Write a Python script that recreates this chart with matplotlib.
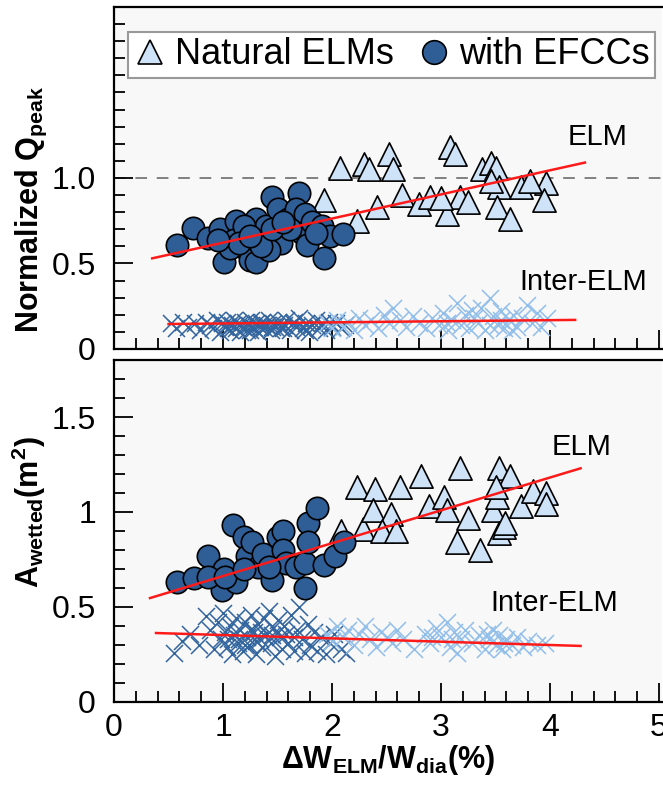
import matplotlib
matplotlib.use("Agg")
import matplotlib.pyplot as plt
import numpy as np
from matplotlib.ticker import MultipleLocator, FixedLocator, FixedFormatter
from matplotlib.lines import Line2D

plt.rcParams.update({
    'font.family': 'Liberation Sans',
    'mathtext.fontset': 'custom',
    'mathtext.rm': 'Liberation Sans',
    'mathtext.it': 'Liberation Sans',
    'mathtext.bf': 'Liberation Sans:bold',
})

# --- data: top panel (normalized Q_peak) ---
top_natural = [(2.07, 1.06), (2.29, 1.08), (2.34, 1.05), (2.52, 1.14), (2.56, 1.05),
               (1.93, 0.87), (2.23, 0.75), (2.41, 0.83), (2.64, 0.90), (2.80, 0.85),
               (2.90, 0.89), (3.05, 0.79), (3.08, 1.18), (3.13, 1.14), (3.17, 0.89),
               (3.25, 0.86), (3.38, 1.05), (3.46, 1.09), (3.50, 1.06), (3.53, 0.95),
               (3.51, 0.83), (3.63, 0.76), (3.73, 0.95), (3.96, 0.97), (3.94, 0.87),
               (3.46, 0.98), (3.00, 0.88), (3.82, 0.98)]
top_efcc = [(0.58, 0.61), (0.72, 0.71), (0.86, 0.65), (0.97, 0.70), (1.01, 0.51),
            (1.12, 0.75), (1.10, 0.64), (1.21, 0.68), (1.22, 0.58), (1.25, 0.52),
            (1.30, 0.76), (1.32, 0.64), (1.30, 0.51), (1.39, 0.72), (1.45, 0.89),
            (1.50, 0.82), (1.52, 0.68), (1.53, 0.62), (1.60, 0.76), (1.70, 0.91),
            (1.67, 0.82), (1.75, 0.79), (1.72, 0.68), (1.77, 0.61), (1.82, 0.74),
            (1.91, 0.72), (1.93, 0.53), (1.98, 0.66), (2.10, 0.67), (1.19, 0.72),
            (1.06, 0.59), (1.42, 0.58), (1.61, 0.70), (1.15, 0.62), (1.35, 0.60),
            (1.25, 0.66), (0.95, 0.64), (1.45, 0.70), (1.55, 0.74), (1.85, 0.68)]
top_inter_efcc = [(0.52, 0.15), (0.57, 0.12), (0.63, 0.16), (0.68, 0.13), (0.74, 0.15),
                  (0.79, 0.11), (0.84, 0.16), (0.88, 0.14), (0.91, 0.12), (0.94, 0.17),
                  (0.97, 0.10), (0.99, 0.15), (1.02, 0.13), (1.04, 0.16), (1.06, 0.11),
                  (1.08, 0.14), (1.10, 0.17), (1.12, 0.12), (1.14, 0.15), (1.16, 0.10),
                  (1.18, 0.13), (1.20, 0.16), (1.22, 0.11), (1.24, 0.14), (1.26, 0.17),
                  (1.28, 0.12), (1.30, 0.15), (1.32, 0.10), (1.34, 0.13), (1.36, 0.16),
                  (1.38, 0.12), (1.40, 0.14), (1.42, 0.17), (1.44, 0.11), (1.46, 0.15),
                  (1.48, 0.13), (1.50, 0.16), (1.53, 0.12), (1.56, 0.14), (1.58, 0.17),
                  (1.61, 0.11), (1.64, 0.15), (1.67, 0.13), (1.70, 0.18), (1.73, 0.12),
                  (1.76, 0.15), (1.79, 0.10), (1.82, 0.14), (1.85, 0.17), (1.88, 0.12),
                  (1.91, 0.15), (1.94, 0.11), (1.97, 0.16), (2.00, 0.13), (2.04, 0.15),
                  (2.08, 0.12), (2.12, 0.14), (1.05, 0.12), (1.15, 0.14), (1.25, 0.11),
                  (1.35, 0.15), (1.45, 0.13), (1.55, 0.12), (1.65, 0.16), (1.75, 0.11)]
top_inter_natural = [(1.95, 0.15), (2.00, 0.12), (2.05, 0.17), (2.10, 0.13), (2.15, 0.16),
                     (2.20, 0.11), (2.25, 0.18), (2.30, 0.14), (2.36, 0.17), (2.42, 0.12),
                     (2.48, 0.20), (2.52, 0.15), (2.56, 0.24), (2.62, 0.17), (2.68, 0.13),
                     (2.74, 0.19), (2.80, 0.15), (2.86, 0.12), (2.92, 0.18), (2.98, 0.14),
                     (3.02, 0.21), (3.06, 0.11), (3.10, 0.17), (3.15, 0.27), (3.18, 0.14),
                     (3.22, 0.20), (3.26, 0.12), (3.30, 0.18), (3.34, 0.15), (3.37, 0.24),
                     (3.40, 0.11), (3.45, 0.30), (3.48, 0.19), (3.52, 0.14), (3.55, 0.22),
                     (3.58, 0.12), (3.62, 0.17), (3.66, 0.20), (3.70, 0.13), (3.74, 0.18),
                     (3.79, 0.26), (3.83, 0.15), (3.88, 0.21), (3.92, 0.13), (3.97, 0.18),
                     (3.45, 0.14), (3.55, 0.17), (3.05, 0.15), (3.28, 0.23), (3.65, 0.11)]
top_fit_elm = [(0.35, 0.53), (4.32, 1.09)]
top_fit_inter = [(0.50, 0.146), (4.23, 0.17)]

# --- data: bottom panel (A_wetted) ---
bot_natural = [(2.23, 1.13), (2.39, 1.12), (2.62, 1.13), (2.82, 1.19), (3.17, 1.23),
               (3.53, 1.23), (3.63, 1.19), (2.08, 0.90), (2.28, 0.91), (2.38, 1.01),
               (2.54, 0.99), (2.46, 0.90), (2.59, 0.90), (2.89, 1.03), (3.03, 1.08),
               (3.05, 1.01), (3.15, 0.84), (3.25, 0.97), (3.36, 0.80), (3.48, 1.01),
               (3.51, 1.08), (3.53, 0.89), (3.58, 0.92), (3.73, 1.03), (3.84, 1.11),
               (3.96, 1.10), (3.96, 1.04), (3.50, 1.13), (3.59, 0.94)]
bot_efcc = [(0.58, 0.63), (0.73, 0.65), (0.86, 0.77), (1.01, 0.70), (0.99, 0.59),
            (1.09, 0.93), (1.12, 0.63), (1.19, 0.87), (1.22, 0.77), (1.27, 0.84),
            (1.32, 0.71), (1.37, 0.78), (1.45, 0.64), (1.50, 0.87), (1.55, 0.90),
            (1.55, 0.80), (1.58, 0.73), (1.67, 0.71), (1.75, 0.73), (1.75, 0.60),
            (1.78, 0.94), (1.78, 0.84), (1.86, 1.02), (1.93, 0.72), (2.03, 0.77),
            (2.11, 0.84), (0.86, 0.66), (1.02, 0.66), (1.42, 0.71), (1.19, 0.70)]
bot_inter_efcc = [(0.55, 0.26), (0.62, 0.32), (0.70, 0.36), (0.78, 0.30), (0.84, 0.45),
                  (0.88, 0.38), (0.92, 0.28), (0.95, 0.42), (0.98, 0.33), (1.00, 0.47),
                  (1.02, 0.37), (1.04, 0.29), (1.06, 0.40), (1.08, 0.25), (1.10, 0.35),
                  (1.12, 0.44), (1.14, 0.31), (1.16, 0.38), (1.18, 0.27), (1.20, 0.42),
                  (1.22, 0.34), (1.24, 0.30), (1.26, 0.46), (1.28, 0.37), (1.30, 0.25),
                  (1.32, 0.41), (1.34, 0.33), (1.36, 0.29), (1.38, 0.44), (1.40, 0.36),
                  (1.42, 0.48), (1.44, 0.31), (1.46, 0.39), (1.48, 0.24), (1.50, 0.43),
                  (1.52, 0.34), (1.54, 0.28), (1.56, 0.40), (1.58, 0.36), (1.60, 0.31),
                  (1.62, 0.46), (1.65, 0.27), (1.68, 0.38), (1.70, 0.50), (1.72, 0.33),
                  (1.75, 0.26), (1.78, 0.41), (1.80, 0.30), (1.83, 0.37), (1.86, 0.27),
                  (1.90, 0.34), (1.94, 0.25), (1.98, 0.31), (2.02, 0.36), (2.08, 0.28),
                  (2.13, 0.26), (1.15, 0.33), (1.25, 0.38), (1.35, 0.37), (1.45, 0.35),
                  (1.05, 0.33), (1.20, 0.30), (1.30, 0.32), (1.50, 0.37), (1.65, 0.34)]
bot_inter_natural = [(1.95, 0.36), (2.00, 0.32), (2.05, 0.40), (2.10, 0.34), (2.15, 0.38),
                     (2.20, 0.30), (2.25, 0.36), (2.30, 0.40), (2.35, 0.33), (2.40, 0.29),
                     (2.45, 0.37), (2.50, 0.34), (2.55, 0.31), (2.60, 0.38), (2.65, 0.33),
                     (2.75, 0.28), (2.85, 0.36), (2.90, 0.31), (2.95, 0.39), (3.00, 0.34),
                     (3.05, 0.42), (3.08, 0.29), (3.12, 0.37), (3.15, 0.26), (3.18, 0.33),
                     (3.22, 0.38), (3.28, 0.31), (3.35, 0.35), (3.40, 0.28), (3.44, 0.33),
                     (3.48, 0.38), (3.50, 0.30), (3.53, 0.35), (3.56, 0.28), (3.60, 0.33),
                     (3.65, 0.30), (3.70, 0.34), (3.75, 0.29), (3.80, 0.32), (3.88, 0.30),
                     (3.95, 0.31), (3.42, 0.36), (3.58, 0.31), (3.10, 0.33), (2.92, 0.34)]
bot_fit_elm = [(0.33, 0.547), (4.28, 1.23)]
bot_fit_inter = [(0.385, 0.363), (4.28, 0.295)]

# --- styles ---
C_EFCC = '#2f5e97'
C_CROSS_DARK = '#33659f'
C_CROSS_LIGHT = '#92bfea'
C_TRI = '#cfe3f8'
C_FIT = '#ff1a1a'
BG = '#f8f8f8'

fig = plt.figure(figsize=(6.63, 7.89), dpi=100)
ax1 = fig.add_axes([0.172, 0.5577, 0.827, 0.4335])
ax2 = fig.add_axes([0.172, 0.1103, 0.827, 0.4334])


def draw_panel(ax, natural, efcc, inter_efcc, inter_nat, fit_elm, fit_inter):
    a = np.array(inter_efcc)
    b = np.array(inter_nat)
    ax.scatter(a[:, 0], a[:, 1], marker='x', s=150, c=C_CROSS_DARK, linewidths=1.1, zorder=2)
    ax.scatter(b[:, 0], b[:, 1], marker='x', s=150, c=C_CROSS_LIGHT, linewidths=1.1, zorder=2)
    n = np.array(natural)
    e = np.array(efcc)
    ax.scatter(n[:, 0], n[:, 1], marker='^', s=280, c=C_TRI, edgecolors='black',
               linewidths=1.2, zorder=3)
    ax.scatter(e[:, 0], e[:, 1], marker='o', s=260, c=C_EFCC, edgecolors='black',
               linewidths=1.2, zorder=4)
    f1 = np.array(fit_elm)
    f2 = np.array(fit_inter)
    ax.plot(f1[:, 0], f1[:, 1], color=C_FIT, lw=1.8, zorder=5)
    ax.plot(f2[:, 0], f2[:, 1], color=C_FIT, lw=1.8, zorder=5)

    ax.set_facecolor(BG)
    ax.set_xlim(0, 5.03)
    ax.xaxis.set_major_locator(MultipleLocator(1))
    ax.xaxis.set_minor_locator(MultipleLocator(0.2))
    ax.yaxis.set_minor_locator(MultipleLocator(0.1))
    ax.tick_params(which='both', direction='in', top=False, right=False,
                   labelsize=23, width=1.3)
    ax.tick_params(which='major', length=14)
    ax.tick_params(which='minor', length=8)
    ax.tick_params(axis='y', pad=13)
    ax.tick_params(axis='x', pad=8)
    for side in ['left', 'bottom', 'top']:
        ax.spines[side].set_linewidth(1.6)
    ax.spines['right'].set_visible(False)


draw_panel(ax1, top_natural, top_efcc, top_inter_efcc, top_inter_natural,
           top_fit_elm, top_fit_inter)
draw_panel(ax2, bot_natural, bot_efcc, bot_inter_efcc, bot_inter_natural,
           bot_fit_elm, bot_fit_inter)

# top panel
ax1.set_ylim(0, 2.0)
ax1.yaxis.set_major_locator(FixedLocator([0, 0.5, 1.0]))
ax1.yaxis.set_major_formatter(FixedFormatter(['0', '0.5', '1.0']))
ax1.tick_params(axis='x', labelbottom=False)
ax1.axhline(1.0, color='#808080', lw=1.4, ls=(0, (6, 5)), zorder=1)
ax1.set_ylabel(r'$\mathbf{Normalized\ Q_{peak}}$', fontsize=22)
ax1.yaxis.set_label_coords(-0.118, 0.41)
ax1.text(4.16, 1.24, 'ELM', fontsize=21, va='center', ha='left')
ax1.text(3.72, 0.39, 'Inter-ELM', fontsize=21, va='center', ha='left')

handles = [Line2D([], [], ls='none', marker='^', ms=17, mfc=C_TRI, mec='black', mew=1.2),
           Line2D([], [], ls='none', marker='o', ms=17, mfc=C_EFCC, mec='black', mew=1.2)]
leg = ax1.legend(handles, ['Natural ELMs', 'with EFCCs'], loc='center',
                 bbox_to_anchor=(0.026, 0.781, 0.961, 0.158), mode='expand', ncol=2,
                 fontsize=26, handlelength=0.9, handletextpad=0.25, columnspacing=0.8,
                 borderpad=0.15, borderaxespad=0, fancybox=False, framealpha=1)
leg.get_frame().set_edgecolor('#999999')
leg.get_frame().set_linewidth(1.5)

# bottom panel
ax2.set_ylim(0, 1.8)
ax2.yaxis.set_major_locator(FixedLocator([0, 0.5, 1.0, 1.5]))
ax2.yaxis.set_major_formatter(FixedFormatter(['0', '0.5', '1', '1.5']))
ax2.set_ylabel(r'$\mathbf{A_{wetted}(m^2)}$', fontsize=22)
ax2.yaxis.set_label_coords(-0.12, 0.556)
ax2.set_xlabel(r'$\mathbf{\Delta W_{ELM}/W_{dia}(\%)}$', fontsize=22, labelpad=0)
ax2.text(4.01, 1.34, 'ELM', fontsize=21, va='center', ha='left')
ax2.text(3.45, 0.52, 'Inter-ELM', fontsize=21, va='center', ha='left')

fig.savefig('out.png', dpi=100)
